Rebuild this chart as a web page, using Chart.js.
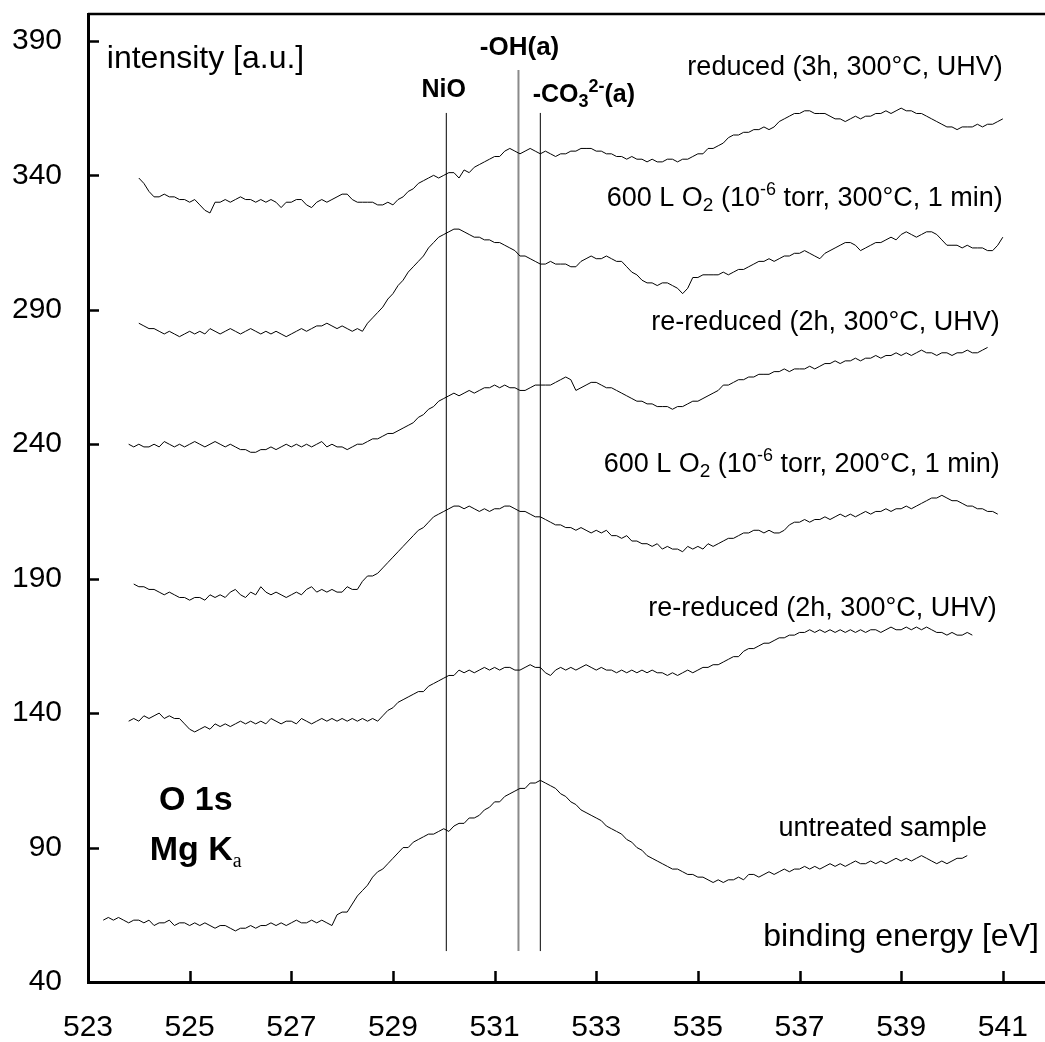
<!DOCTYPE html>
<html><head><meta charset="utf-8">
<script src="https://cdn.jsdelivr.net/npm/chart.js@4.4.0/dist/chart.umd.min.js"></script>
<style>html,body{margin:0;padding:0;background:#fff;overflow:hidden}#wrap{width:1045px;height:1042px}</style>
</head><body><div id="wrap"><canvas id="c" width="1045" height="1042"></canvas></div>
<script>
// ---- data ----
const energyStep = 0.1; // eV between spectrum points
const xTickValues = [523, 525, 527, 529, 531, 533, 535, 537, 539, 541];
const yTickValues = [40, 90, 140, 190, 240, 290, 340, 390];

const seriesNames = ['reduced (3h, 300°C, UHV)', '600 L O2 (300°C)', 're-reduced (2h, 300°C, UHV) #2', '600 L O2 (200°C)', 're-reduced (2h, 300°C, UHV) #1', 'untreated sample'];
const seriesStartEnergy = [524.0, 524.0, 523.8, 523.9, 523.8, 523.3];

const reduced3h = [339,337,334,332,332,333,332,332,331,331,330,331,329,327,326,330,330,331,330,331,332,331,331,330,331,330,331,330,328,330,330,331,331,329,328,330,331,330,331,332,
333,333,331,330,330,330,330,329,329,330,
329,331,332,334,335,337,338,339,340,339,
340,341,341,339,342,341,343,344,345,346,
347,347,349,350,349,348,349,350,349,348,
349,348,347,348,348,349,349,350,350,350,
349,349,348,348,347,347,346,347,346,346,
345,346,345,345,346,346,345,346,346,347,
348,348,350,350,351,352,354,355,355,356,
356,357,357,358,357,358,360,361,362,363,
363,364,364,363,363,363,362,361,361,360,
361,362,361,362,362,363,363,364,363,364,
365,364,364,363,363,362,361,360,359,358,
358,357,358,358,358,359,358,359,359,360,
361];

const o2At300 = [285,284,283,283,282,281,282,281,280,281,282,281,282,281,283,282,281,282,283,282,281,282,283,282,281,282,281,282,281,280,281,282,283,282,283,284,284,285,284,283,
284,283,282,283,282,285,287,289,291,294,
296,299,301,304,306,308,310,313,315,317,
318,319,320,320,319,318,317,317,316,316,
315,315,314,313,312,310,310,309,308,307,
307,308,307,307,307,306,306,308,309,310,
309,309,310,309,308,308,306,304,303,301,
300,300,299,300,300,299,298,296,298,302,
302,303,303,303,303,304,303,304,305,305,
306,307,308,308,309,308,309,310,310,311,
311,312,311,310,309,311,312,313,314,315,
315,314,312,313,314,315,315,316,317,316,
318,319,318,317,318,319,319,318,316,314,
314,314,313,314,313,313,313,312,312,314,
317];

const reReducedLater = [240,239,
240,239,239,240,239,241,240,239,240,239,
240,241,240,239,240,241,240,239,240,239,
238,238,237,237,238,238,239,238,239,240,
239,240,239,240,239,240,241,239,240,239,
239,238,239,240,240,241,242,242,243,244,
244,245,246,247,248,250,251,253,254,256,
257,258,259,258,259,260,259,260,261,261,
262,261,262,261,261,260,260,261,262,262,
262,262,263,264,265,264,260,261,262,263,
263,262,261,261,260,259,258,257,256,256,
255,255,254,254,254,253,254,254,255,256,
256,257,258,259,260,262,262,263,264,264,
265,265,266,266,266,267,267,268,267,268,
268,268,269,268,269,270,270,271,270,271,
271,272,271,272,272,273,272,273,273,274,
273,274,273,274,275,274,274,273,274,274,
273,274,274,275,274,274,275,276];

const o2At200 = [188,187,187,186,186,185,184,185,184,183,183,182,183,183,182,184,183,184,183,185,186,184,183,185,184,187,185,184,185,184,183,184,185,184,186,187,185,186,185,186,185,185,187,186,186,189,191,191,192,194,196,198,200,202,204,206,208,209,211,213,214,215,216,217,217,216,217,216,215,216,215,216,216,217,217,216,215,215,214,213,213,212,211,210,210,209,209,208,209,208,207,208,207,208,206,206,205,206,204,204,203,203,202,203,201,202,201,201,200,202,201,202,201,203,202,203,204,205,205,206,207,207,208,208,207,208,207,207,208,210,211,211,212,211,212,212,213,212,213,214,213,214,213,214,215,214,215,215,216,215,216,216,217,216,217,218,219,220,220,221,220,219,219,218,217,217,216,216,215,215,214];

const reReducedFirst = [137,138,137,139,138,139,140,138,139,138,138,136,134,133,134,135,134,136,135,136,135,136,137,136,137,136,137,136,138,137,136,137,137,136,138,137,136,137,138,137,138,137,138,137,138,137,138,137,138,137,139,141,142,144,145,146,147,148,148,150,151,152,153,154,154,156,155,156,155,156,157,156,157,156,157,157,156,156,157,158,157,157,155,154,156,157,156,157,156,157,158,157,156,157,156,156,155,156,155,156,155,156,155,156,155,155,154,155,154,155,156,155,156,157,157,158,158,159,160,161,161,163,164,164,165,166,166,167,168,168,169,169,170,170,171,170,171,170,171,170,171,170,171,170,171,170,171,171,170,171,172,171,171,172,171,172,171,172,171,170,170,169,170,169,169,170,169];

const untreated = [63,64,63,64,63,62,63,63,62,63,61,62,62,63,61,62,62,61,62,61,62,61,60,61,61,60,59,60,60,61,60,61,61,62,61,62,61,62,63,62,62,63,62,63,62,61,65,66,66,69,72,74,76,79,81,82,84,86,88,90,90,92,93,94,95,95,96,97,96,98,99,99,101,101,102,104,105,107,107,109,110,111,112,112,114,114,115,114,113,112,110,109,107,106,104,103,102,101,100,98,97,96,95,93,92,90,89,87,86,85,84,83,82,82,81,80,80,79,79,78,77,78,77,78,78,79,78,80,80,79,80,81,80,81,82,81,82,82,83,82,83,82,83,84,83,84,83,84,85,84,84,85,84,85,84,85,86,85,86,85,86,87,86,85,84,85,84,85,86,86,87];

// reference binding energies of the marked species, with line extents
const markerEnergy = [530.05, 531.47, 531.9];
const markerBottom = [51.5, 51.5, 51.5];
const markerTop = [363.2, 379.2, 363.2];

const seriesValues = [reduced3h, o2At300, reReducedLater, o2At200, reReducedFirst, untreated];

// ---- build datasets ----
const datasets = seriesValues.map((vals, k) => ({
  label: seriesNames[k],
  data: vals.map((v, i) => ({ x: +(seriesStartEnergy[k] + i * energyStep).toFixed(2), y: v })),
  showLine: true, borderColor: '#000', borderWidth: 1, pointRadius: 0, tension: 0, fill: false
}));
const markerStyles = [
  { color: '#000', width: 1 },
  { color: '#8a8a8a', width: 2 },
  { color: '#000', width: 1 }
];
markerEnergy.forEach((e, k) => {
  datasets.push({
    label: 'marker' + k,
    data: [{ x: e, y: markerBottom[k] }, { x: e, y: markerTop[k] }],
    showLine: true, borderColor: markerStyles[k].color, borderWidth: markerStyles[k].width,
    pointRadius: 0, fill: false
  });
});

// ---- annotations (positions in data coordinates) ----
const SANS = "'Liberation Sans', Arial, Helvetica, sans-serif";
const SERIF = "'Liberation Serif', 'Times New Roman', serif";
const LBL = 27;
const notes = [
  { e: 541.0, v: 377.3, align: 'right', runs: [{ t: 'reduced (3h, 300°C, UHV)', s: LBL }] },
  { e: 541.0, v: 328.6, align: 'right', runs: [{ t: '600 L O', s: LBL }, { t: '2', s: 19, dy: 5 }, { t: ' (10', s: LBL }, { t: '-6', s: 18, dy: -11 }, { t: ' torr, 300°C, 1 min)', s: LBL }] },
  { e: 540.94, v: 282.5, align: 'right', runs: [{ t: 're-reduced (2h, 300°C, UHV)', s: LBL }] },
  { e: 540.94, v: 229.7, align: 'right', runs: [{ t: '600 L O', s: LBL }, { t: '2', s: 19, dy: 5 }, { t: ' (10', s: LBL }, { t: '-6', s: 18, dy: -11 }, { t: ' torr, 200°C, 1 min)', s: LBL }] },
  { e: 540.88, v: 176.1, align: 'right', runs: [{ t: 're-reduced (2h, 300°C, UHV)', s: LBL }] },
  { e: 540.69, v: 94.3, align: 'right', runs: [{ t: 'untreated sample', s: LBL }] },
  { e: 541.71, v: 53.4, align: 'right', runs: [{ t: 'binding energy [eV]', s: 32 }] },
  { e: 523.37, v: 379.9, align: 'left', runs: [{ t: 'intensity [a.u.]', s: 32 }] },
  { e: 525.12, v: 104.0, align: 'center', runs: [{ t: 'O 1s', s: 34, b: true }] },
  { e: 525.12, v: 85.4, align: 'center', runs: [{ t: 'Mg K', s: 34, b: true }, { t: 'a', s: 20, dy: 7, f: SERIF }] },
  { e: 530.0, v: 369.1, align: 'center', runs: [{ t: 'NiO', s: 25, b: true }] },
  { e: 530.71, v: 384.7, align: 'left', runs: [{ t: '-OH(a)', s: 26, b: true }] },
  { e: 531.75, v: 367.3, align: 'left', runs: [{ t: '-CO', s: 25, b: true }, { t: '3', s: 18, dy: 5, b: true }, { t: '2-', s: 18, dy: -10, b: true }, { t: '(a)', s: 25, b: true }] }
];

function fontOf(r) { return (r.b ? 'bold ' : '') + r.s + 'px ' + (r.f || SANS); }

const decor = {
  id: 'decor',
  afterDraw(chart) {
    const { ctx, chartArea: a, scales: { x, y } } = chart;
    ctx.save();
    ctx.strokeStyle = '#000';
    ctx.lineWidth = 2.5;
    // top frame line
    ctx.beginPath(); ctx.moveTo(a.left, a.top); ctx.lineTo(a.right, a.top); ctx.stroke();
    // inward tick marks
    ctx.beginPath();
    x.ticks.forEach(t => { const px = Math.round(x.getPixelForValue(t.value)) + 0.5; if (t.value > x.min) { ctx.moveTo(px, a.bottom); ctx.lineTo(px, a.bottom - 11); } });
    y.ticks.forEach(t => { const py = Math.round(y.getPixelForValue(t.value)) + 0.5; if (t.value > y.min) { ctx.moveTo(a.left, py); ctx.lineTo(a.left + 11, py); } });
    ctx.stroke();
    // text annotations
    ctx.fillStyle = '#000';
    ctx.textBaseline = 'alphabetic';
    ctx.textAlign = 'left';
    notes.forEach(n => {
      let w = 0;
      n.runs.forEach(r => { ctx.font = fontOf(r); w += ctx.measureText(r.t).width; });
      let px = x.getPixelForValue(n.e);
      const py = y.getPixelForValue(n.v);
      if (n.align === 'right') px -= w; else if (n.align === 'center') px -= w / 2;
      n.runs.forEach(r => { ctx.font = fontOf(r); ctx.fillText(r.t, px, py + (r.dy || 0)); px += ctx.measureText(r.t).width; });
    });
    ctx.restore();
  }
};

function noEdgePadding(s) { s.paddingLeft = 0; s.paddingRight = 0; s.paddingTop = 0; s.paddingBottom = 0; }
const tickFont = { family: SANS, size: 30 };
new Chart(document.getElementById('c').getContext('2d'), {
  type: 'scatter',
  data: { datasets },
  options: {
    responsive: false, animation: false, devicePixelRatio: 1,
    layout: { padding: { left: 0, right: 0, top: 14, bottom: 0 } },
    plugins: { legend: { display: false }, tooltip: { enabled: false } },
    scales: {
      x: {
        type: 'linear', min: 523, max: 541.83,
        afterBuildTicks: s => { s.ticks = xTickValues.map(v => ({ value: v })); },
        afterFit: s => { s.height = 60; noEdgePadding(s); },
        grid: { display: false, drawTicks: false },
        border: { display: true, width: 3, color: '#000' },
        ticks: { font: tickFont, color: '#000', padding: 28, maxRotation: 0, autoSkip: false }
      },
      y: {
        type: 'linear', min: 40, max: 400,
        afterBuildTicks: s => { s.ticks = yTickValues.map(v => ({ value: v })); },
        afterFit: s => { s.width = 88; noEdgePadding(s); },
        grid: { display: false, drawTicks: false },
        border: { display: true, width: 3, color: '#000' },
        ticks: { font: tickFont, color: '#000', padding: 26, autoSkip: false }
      }
    }
  },
  plugins: [decor]
});
</script></body></html>
